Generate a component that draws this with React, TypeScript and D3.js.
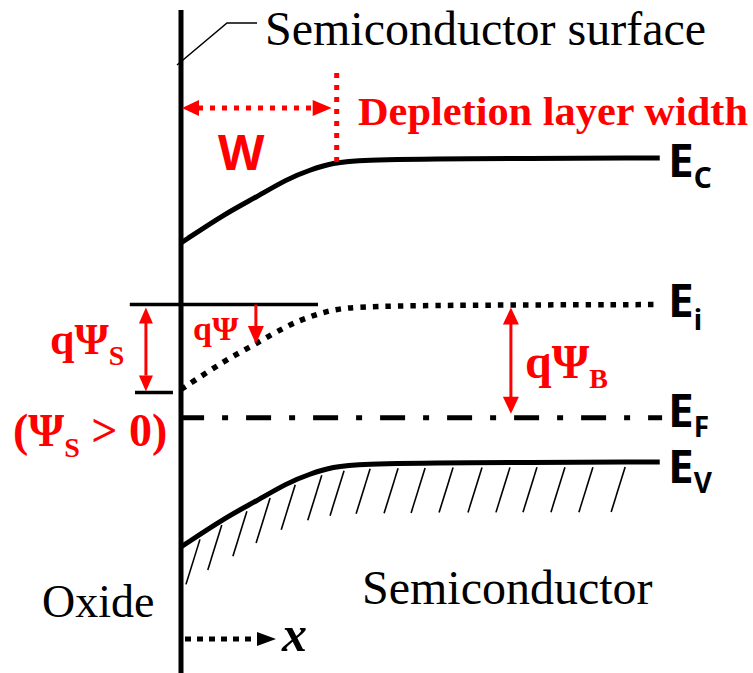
import React from 'react';
import * as d3 from 'd3';

// band levels in the bulk (eV, Ev = 0)
const bandNames = ['C', 'i', 'F', 'V'];
const bandEnergy = [1.12, 0.58, 0.163, 0];

// band bending profile: distance from surface (a.u.) vs downward bending (eV)
const profileX = [0, 9.5, 15.5, 22.4, 27.2, 32, 37.8, 56.7, 100];
const profileBend = [0.313, 0.203, 0.148, 0.077, 0.044, 0.018, 0.007, 0.002, 0];

const depletionW = 32;
const qPsiAt = 15.8;
const qPsiBAt = 69.6;
const qPsiSAt = -7.4;

// hatch marks under Ev
const hatchX = [4.0, 8.6, 13.9, 18.8, 24.1, 29.7, 34.4, 39.9, 45.8, 51.5, 57.4, 63.5, 69.4, 75.1, 81.0, 86.9, 93.7];

const RED = '#ff0000';
const SERIF = '"Liberation Serif", "Times New Roman", serif';
const SANS = '"Noto Sans", "Liberation Sans", sans-serif';

const W = 753;
const H = 673;

const x = d3.scaleLinear().domain([0, 100]).range([181, 655]);
const y = d3.scaleLinear().domain([0, 1.12]).range([462, 158]);
const bend = d3.scaleLinear().domain(profileX).range(profileBend).clamp(true);

const head = (tx: number, ty: number, dir: 'up' | 'down' | 'left' | 'right', len = 16, half = 7) => {
  let pts: number[][];
  if (dir === 'down') pts = [[tx, ty], [tx - half, ty - len], [tx + half, ty - len]];
  else if (dir === 'up') pts = [[tx, ty], [tx - half, ty + len], [tx + half, ty + len]];
  else if (dir === 'left') pts = [[tx, ty], [tx + len, ty - half], [tx + len, ty + half]];
  else pts = [[tx, ty], [tx - len, ty - half], [tx - len, ty + half]];
  return pts.map(p => p.join(',')).join(' ');
};

export default function App() {
  const [Ec, Ei, Ef, Ev] = bandEnergy;

  const bandLine = (e0: number) =>
    d3.line<number>()
      .x(d => x(d))
      .y(d => y(e0 - bend(d)))
      .curve(d3.curveBasis)([...profileX.slice(0, -1), 101]) || '';

  const labelDy = [19, 12, 9, 21];
  const subDy = [11, 13, 10, 10];

  const eiY = y(Ei);
  const eiSurf = y(Ei - bend(0));

  return (
    <svg width={W} height={H} style={{position: 'absolute', left: 0, top: 0, background: '#fff'}}>
      <rect width={W} height={H} fill="#fff" />

      {/* hatch under valence band */}
      {hatchX.map((h, i) => {
        const x0 = x(h);
        const y0 = y(Ev - bend(h)) + 5;
        return <line key={i} x1={x0} y1={y0} x2={x0 - 14} y2={y0 + 45} stroke="#000" strokeWidth={1.6} />;
      })}

      {/* bands */}
      <path d={bandLine(Ec)} fill="none" stroke="#000" strokeWidth={5} />
      <path d={bandLine(Ev)} fill="none" stroke="#000" strokeWidth={5} />
      <path d={bandLine(Ei)} fill="none" stroke="#000" strokeWidth={5.5} strokeDasharray="5.5 7" />
      <line x1={x(-0.4)} x2={x(101.5)} y1={y(Ef)} y2={y(Ef)} stroke="#000" strokeWidth={5} strokeDasharray="25 18 6 18" />

      {/* reference lines at surface */}
      <line x1={x(-10.8)} x2={x(28.9)} y1={eiY} y2={eiY} stroke="#000" strokeWidth={3.5} />
      <line x1={x(-9.7)} x2={x(-1.7)} y1={eiSurf + 3} y2={eiSurf + 3} stroke="#000" strokeWidth={3.5} />

      {/* surface */}
      <line x1={x(0)} x2={x(0)} y1={10} y2={H} stroke="#000" strokeWidth={5} />
      <polyline points="177,65 227,23 257,23" fill="none" stroke="#000" strokeWidth={1.5} />
      <text x={265} y={45} fontFamily={SERIF} fontSize={48}>Semiconductor surface</text>

      {/* depletion width */}
      <line x1={x(depletionW) + 4} x2={x(depletionW) + 4} y1={73} y2={y(Ec - bend(depletionW))} stroke={RED} strokeWidth={5} strokeDasharray="5 7" />
      <line x1={x(0) + 17} x2={x(depletionW) - 20} y1={108} y2={108} stroke={RED} strokeWidth={5} strokeDasharray="5 7" />
      <polygon points={head(x(0) + 1, 108, 'left', 17, 8)} fill={RED} />
      <polygon points={head(x(depletionW) - 1, 108, 'right', 19, 8)} fill={RED} />
      <text x={358} y={125} fontFamily={SERIF} fontWeight="bold" fontSize={40} fill={RED} textLength={390} lengthAdjust="spacingAndGlyphs">Depletion layer width</text>
      <text x={218} y={170} fontFamily={SANS} fontWeight="bold" fontSize={48} fill={RED}>W</text>

      {/* qPsi_S */}
      <line x1={x(qPsiSAt)} x2={x(qPsiSAt)} y1={eiY + 18} y2={eiSurf - 14} stroke={RED} strokeWidth={3} />
      <polygon points={head(x(qPsiSAt), eiY + 3, 'up')} fill={RED} />
      <polygon points={head(x(qPsiSAt), eiSurf + 2, 'down')} fill={RED} />
      <text x={50} y={354} fontFamily={SERIF} fontWeight="bold" fontSize={44} fill={RED}>
        qΨ<tspan fontSize={28} dy={11}>S</tspan>
      </text>
      <text x={13} y={446} fontFamily={SERIF} fontWeight="bold" fontSize={46} fill={RED}>
        (Ψ<tspan fontSize={28} dy={11}>S</tspan><tspan dy={-11}> &gt; 0)</tspan>
      </text>

      {/* qPsi */}
      <line x1={x(qPsiAt)} x2={x(qPsiAt)} y1={eiY} y2={y(Ei - bend(qPsiAt)) - 14} stroke={RED} strokeWidth={3} />
      <polygon points={head(x(qPsiAt), y(Ei - bend(qPsiAt)), 'down', 18, 8)} fill={RED} />
      <text x={193} y={340} fontFamily={SERIF} fontWeight="bold" fontSize={34} fill={RED}>qΨ</text>

      {/* qPsi_B */}
      <line x1={x(qPsiBAt)} x2={x(qPsiBAt)} y1={eiY + 18} y2={y(Ef) - 16} stroke={RED} strokeWidth={3} />
      <polygon points={head(x(qPsiBAt), eiY + 3, 'up', 17, 8)} fill={RED} />
      <polygon points={head(x(qPsiBAt), y(Ef) - 4, 'down', 17, 8)} fill={RED} />
      <text x={525} y={378} fontFamily={SERIF} fontWeight="bold" fontSize={48} fill={RED}>
        qΨ<tspan fontSize={28} dy={10}>B</tspan>
      </text>

      {/* band labels */}
      {bandNames.map((n, i) => (
        <text key={n} x={668} y={y(bandEnergy[i]) + labelDy[i]} fontFamily={SANS} fontWeight="bold" fontSize={46}>
          E<tspan fontSize={28} dy={subDy[i]}>{n}</tspan>
        </text>
      ))}

      {/* region labels */}
      <text x={42} y={617} fontFamily={SERIF} fontSize={46}>Oxide</text>
      <text x={362} y={604} fontFamily={SERIF} fontSize={48}>Semiconductor</text>

      {/* x direction */}
      <line x1={x(0) + 4} x2={257} y1={639} y2={639} stroke="#000" strokeWidth={5} strokeDasharray="6 6" />
      <polygon points={head(276, 639, 'right', 19, 7)} fill="#000" />
      <text x={282} y={651} fontFamily={SERIF} fontStyle="italic" fontWeight="bold" fontSize={50}>x</text>
    </svg>
  );
}
